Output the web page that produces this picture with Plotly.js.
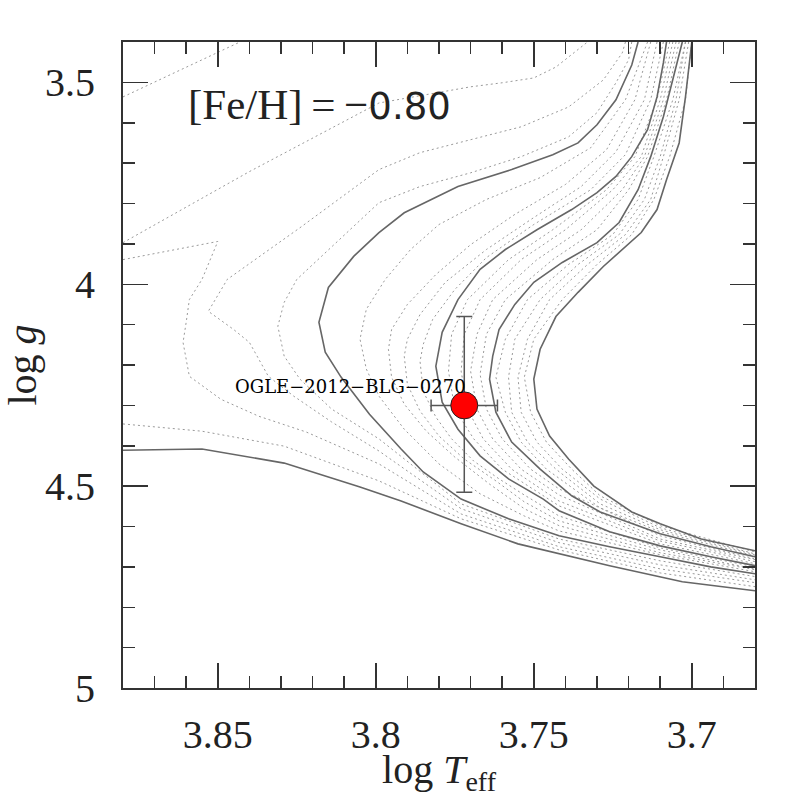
<!DOCTYPE html>
<html>
<head>
<meta charset="utf-8">
<script src="https://cdn.plot.ly/plotly-3.0.1.min.js"></script>
<style>
  body { margin: 0; background: #fff; }
  #chart { width: 797px; height: 797px; }
</style>
</head>
<body>
<div id="chart"></div>
<script>
// solid isochrones (log Teff, log g)
var s1Teff = [3.880, 3.855, 3.829, 3.805, 3.792, 3.773, 3.755, 3.742, 3.726, 3.703, 3.680];
var s1Logg = [4.411, 4.408, 4.443, 4.502, 4.537, 4.593, 4.643, 4.668, 4.697, 4.737, 4.759];

var s2Teff = [3.717, 3.719, 3.724, 3.730, 3.736, 3.744, 3.757, 3.774, 3.791, 3.799, 3.807, 3.815, 3.818, 3.816, 3.811, 3.802, 3.792, 3.785, 3.773, 3.758, 3.742, 3.726, 3.710, 3.694, 3.680];
var s2Logg = [3.400, 3.457, 3.543, 3.605, 3.650, 3.679, 3.716, 3.758, 3.823, 3.872, 3.931, 4.008, 4.094, 4.168, 4.230, 4.322, 4.408, 4.465, 4.532, 4.581, 4.623, 4.650, 4.675, 4.700, 4.717];

var s3Teff = [3.708, 3.709, 3.711, 3.714, 3.719, 3.724, 3.730, 3.738, 3.749, 3.759, 3.767, 3.774, 3.779, 3.781, 3.779, 3.774, 3.767, 3.758, 3.747, 3.742, 3.726, 3.710, 3.694, 3.680];
var s3Logg = [3.400, 3.452, 3.536, 3.617, 3.684, 3.733, 3.773, 3.815, 3.865, 3.914, 3.963, 4.038, 4.119, 4.203, 4.292, 4.359, 4.425, 4.482, 4.532, 4.561, 4.613, 4.648, 4.675, 4.697];

var s4Teff = [3.703, 3.706, 3.709, 3.713, 3.717, 3.723, 3.730, 3.741, 3.750, 3.756, 3.761, 3.763, 3.764, 3.762, 3.757, 3.748, 3.738, 3.729, 3.710, 3.694, 3.680];
var s4Logg = [3.400, 3.494, 3.585, 3.684, 3.766, 3.847, 3.897, 3.946, 3.995, 4.050, 4.112, 4.178, 4.235, 4.317, 4.391, 4.458, 4.524, 4.564, 4.618, 4.650, 4.675];

var s5Teff = [3.700, 3.702, 3.704, 3.708, 3.711, 3.716, 3.728, 3.736, 3.743, 3.748, 3.750, 3.749, 3.745, 3.739, 3.731, 3.719, 3.710, 3.697, 3.680];
var s5Logg = [3.400, 3.536, 3.650, 3.741, 3.815, 3.872, 3.956, 4.020, 4.080, 4.161, 4.235, 4.309, 4.376, 4.433, 4.500, 4.564, 4.593, 4.631, 4.660];

// dotted isochrones, young ones
var d0aTeff = [3.880, 3.843];
var d0aLogg = [3.536, 3.400];
var d0bTeff = [3.880, 3.855, 3.829, 3.799, 3.773, 3.742, 3.710, 3.680];
var d0bLogg = [4.346, 4.364, 4.401, 4.487, 4.581, 4.658, 4.715, 4.749];

var d2Teff = [3.880, 3.840, 3.799, 3.770, 3.760, 3.750, 3.743, 3.733];
var d2Logg = [3.897, 3.721, 3.551, 3.511, 3.501, 3.489, 3.462, 3.400];

var y1Teff = [3.880, 3.850, 3.855, 3.859, 3.860, 3.861, 3.859, 3.849, 3.837, 3.822, 3.799, 3.773, 3.742, 3.710, 3.680];
var y1Logg = [3.939, 3.894, 3.988, 4.038, 4.094, 4.144, 4.228, 4.285, 4.327, 4.366, 4.445, 4.569, 4.650, 4.705, 4.739];

var y2Teff = [3.721, 3.722, 3.728, 3.739, 3.754, 3.770, 3.786, 3.799, 3.824, 3.847, 3.853, 3.845, 3.840, 3.837, 3.834, 3.826, 3.814, 3.799, 3.773, 3.742, 3.710, 3.680];
var y2Logg = [3.400, 3.427, 3.494, 3.561, 3.610, 3.642, 3.674, 3.716, 3.860, 3.988, 4.067, 4.112, 4.144, 4.186, 4.228, 4.277, 4.341, 4.413, 4.556, 4.640, 4.695, 4.732];

var y3Teff = [3.719, 3.720, 3.724, 3.730, 3.739, 3.754, 3.770, 3.786, 3.799, 3.825, 3.829, 3.831, 3.829, 3.824, 3.814, 3.799, 3.773, 3.742, 3.710, 3.680];
var y3Logg = [3.400, 3.444, 3.501, 3.575, 3.635, 3.684, 3.724, 3.758, 3.798, 3.988, 4.045, 4.104, 4.178, 4.235, 4.309, 4.383, 4.544, 4.631, 4.685, 4.724];

// dotted between solid 2 and 3
var m1Teff = [3.714, 3.721, 3.732, 3.748, 3.765, 3.780, 3.789, 3.797, 3.803, 3.805, 3.803, 3.799, 3.791, 3.780, 3.767, 3.753, 3.742, 3.710, 3.680];
var m1Logg = [3.400, 3.543, 3.662, 3.736, 3.790, 3.852, 3.914, 3.988, 4.062, 4.136, 4.210, 4.277, 4.359, 4.445, 4.519, 4.574, 4.611, 4.670, 4.712];
var m2Teff = [3.713, 3.718, 3.727, 3.740, 3.756, 3.770, 3.781, 3.790, 3.795, 3.796, 3.795, 3.791, 3.784, 3.775, 3.764, 3.753, 3.742, 3.710, 3.680];
var m2Logg = [3.400, 3.543, 3.667, 3.753, 3.827, 3.902, 3.976, 4.050, 4.112, 4.161, 4.230, 4.297, 4.364, 4.428, 4.495, 4.556, 4.598, 4.665, 4.707];
var m3Teff = [3.711, 3.715, 3.724, 3.735, 3.751, 3.765, 3.778, 3.786, 3.790, 3.791, 3.790, 3.786, 3.780, 3.772, 3.762, 3.753, 3.742, 3.710, 3.680];
var m3Logg = [3.400, 3.543, 3.672, 3.758, 3.840, 3.914, 3.995, 4.075, 4.136, 4.178, 4.248, 4.314, 4.376, 4.433, 4.487, 4.539, 4.586, 4.658, 4.705];
var m4Teff = [3.709, 3.713, 3.721, 3.732, 3.750, 3.765, 3.775, 3.782, 3.785, 3.786, 3.785, 3.781, 3.776, 3.769, 3.761, 3.753, 3.742, 3.710, 3.680];
var m4Logg = [3.400, 3.543, 3.679, 3.766, 3.852, 3.934, 4.013, 4.087, 4.149, 4.191, 4.265, 4.329, 4.383, 4.438, 4.482, 4.522, 4.574, 4.653, 4.700];

// dotted between solid 3 and 4
var n1Teff = [3.707, 3.711, 3.718, 3.727, 3.744, 3.758, 3.771, 3.776, 3.777, 3.775, 3.769, 3.760, 3.742, 3.710, 3.680];
var n1Logg = [3.400, 3.543, 3.684, 3.766, 3.865, 3.939, 4.038, 4.124, 4.215, 4.309, 4.383, 4.458, 4.549, 4.643, 4.692];
var n2Teff = [3.706, 3.710, 3.716, 3.725, 3.740, 3.754, 3.767, 3.772, 3.773, 3.771, 3.766, 3.757, 3.742, 3.710, 3.680];
var n2Logg = [3.400, 3.543, 3.684, 3.766, 3.865, 3.939, 4.038, 4.124, 4.215, 4.309, 4.383, 4.458, 4.537, 4.636, 4.687];
var n3Teff = [3.705, 3.709, 3.715, 3.722, 3.735, 3.749, 3.763, 3.768, 3.770, 3.768, 3.763, 3.754, 3.742, 3.710, 3.680];
var n3Logg = [3.400, 3.543, 3.684, 3.766, 3.865, 3.939, 4.038, 4.124, 4.215, 4.309, 4.383, 4.458, 4.522, 4.631, 4.682];
var n4Teff = [3.704, 3.708, 3.714, 3.720, 3.730, 3.744, 3.759, 3.765, 3.767, 3.765, 3.760, 3.751, 3.742, 3.710, 3.680];
var n4Logg = [3.400, 3.543, 3.684, 3.766, 3.865, 3.939, 4.038, 4.124, 4.223, 4.309, 4.383, 4.458, 4.507, 4.623, 4.680];

// dotted between solid 4 and 5
var p1Teff = [3.702, 3.706, 3.712, 3.717, 3.725, 3.739, 3.752, 3.759, 3.762, 3.759, 3.754, 3.746, 3.729, 3.710, 3.680];
var p1Logg = [3.400, 3.543, 3.684, 3.790, 3.877, 3.951, 4.038, 4.136, 4.230, 4.317, 4.391, 4.458, 4.554, 4.613, 4.673];
var p2Teff = [3.702, 3.705, 3.710, 3.715, 3.723, 3.736, 3.748, 3.756, 3.758, 3.757, 3.752, 3.743, 3.729, 3.710, 3.680];
var p2Logg = [3.400, 3.543, 3.684, 3.790, 3.877, 3.951, 4.038, 4.136, 4.230, 4.317, 4.391, 4.458, 4.544, 4.608, 4.670];
var p3Teff = [3.701, 3.704, 3.709, 3.713, 3.721, 3.733, 3.745, 3.752, 3.755, 3.754, 3.749, 3.741, 3.729, 3.710, 3.680];
var p3Logg = [3.400, 3.543, 3.684, 3.790, 3.877, 3.951, 4.038, 4.136, 4.230, 4.317, 4.391, 4.458, 4.532, 4.603, 4.668];
var p4Teff = [3.700, 3.702, 3.707, 3.712, 3.719, 3.730, 3.741, 3.750, 3.753, 3.751, 3.746, 3.738, 3.729, 3.710, 3.680];
var p4Logg = [3.400, 3.543, 3.684, 3.790, 3.877, 3.951, 4.038, 4.136, 4.230, 4.317, 4.391, 4.458, 4.524, 4.598, 4.663];

// the source star
var starName = ["OGLE\u22122012\u2212BLG\u22120270"];
var starTeff = [3.772];
var starLogg = [4.30];
var starTeffErr = [0.0105];
var starLoggErrUp = [0.22];   // toward lower log g
var starLoggErrDown = [0.215];

var xTicks = [3.85, 3.8, 3.75, 3.7];
var xTickText = ["3.85", "3.8", "3.75", "3.7"];
var yTicks = [3.5, 4, 4.5, 5];
var yTickText = ["3.5", "4", "4.5", "5"];

var dotted = [
  [d0aTeff, d0aLogg], [d0bTeff, d0bLogg], [d2Teff, d2Logg],
  [y1Teff, y1Logg], [y2Teff, y2Logg], [y3Teff, y3Logg],
  [m1Teff, m1Logg], [m2Teff, m2Logg], [m3Teff, m3Logg], [m4Teff, m4Logg],
  [n1Teff, n1Logg], [n2Teff, n2Logg], [n3Teff, n3Logg], [n4Teff, n4Logg],
  [p1Teff, p1Logg], [p2Teff, p2Logg], [p3Teff, p3Logg], [p4Teff, p4Logg]
];
var solid = [
  [s1Teff, s1Logg], [s2Teff, s2Logg], [s3Teff, s3Logg], [s4Teff, s4Logg], [s5Teff, s5Logg]
];

var data = [];
dotted.forEach(function (c) {
  data.push({
    x: c[0], y: c[1], type: "scatter", mode: "lines",
    line: { color: "#9a9a9a", width: 1, dash: "2px,3px" },
    hoverinfo: "skip"
  });
});
solid.forEach(function (c) {
  data.push({
    x: c[0], y: c[1], type: "scatter", mode: "lines",
    line: { color: "#666", width: 1.6 },
    hoverinfo: "skip"
  });
});
data.push({
  x: starTeff, y: starLogg, type: "scatter", mode: "markers",
  marker: { size: 27, color: "#ff0000", line: { color: "#222", width: 1 } },
  error_x: { type: "data", array: starTeffErr, color: "#555", thickness: 1.5, width: 6 },
  error_y: { type: "data", symmetric: false, array: starLoggErrDown, arrayminus: starLoggErrUp,
             color: "#555", thickness: 1.5, width: 8 }
});

var tickFont = { family: "Liberation Serif", size: 40, color: "#222" };

var layout = {
  width: 797, height: 797,
  margin: { l: 123, r: 42, t: 42, b: 109 },
  paper_bgcolor: "#fff", plot_bgcolor: "#fff",
  showlegend: false,
  xaxis: {
    range: [3.88, 3.68],
    tickmode: "array", tickvals: xTicks, ticktext: xTickText,
    ticks: "inside", ticklen: 25, tickwidth: 1.5, tickcolor: "#333",
    minor: { tickmode: "linear", tick0: 3.7, dtick: 0.01, ticks: "inside", ticklen: 12, tickwidth: 1.5, tickcolor: "#333" },
    showline: true, linecolor: "#333", linewidth: 2, mirror: "ticks",
    showgrid: false, zeroline: false,
    tickfont: tickFont, ticklabelstandoff: 10,
    title: { text: "log <i>T</i><sub>eff</sub>", font: { family: "Liberation Serif", size: 40, color: "#222" }, standoff: 9 }
  },
  yaxis: {
    range: [5, 3.4],
    tickmode: "array", tickvals: yTicks, ticktext: yTickText,
    ticks: "inside", ticklen: 25, tickwidth: 1.5, tickcolor: "#333",
    minor: { tickmode: "linear", tick0: 3.4, dtick: 0.1, ticks: "inside", ticklen: 12, tickwidth: 1.5, tickcolor: "#333" },
    showline: true, linecolor: "#333", linewidth: 2, mirror: "ticks",
    showgrid: false, zeroline: false,
    tickfont: tickFont, ticklabelstandoff: 18,
    title: { text: "log <i>g</i>", font: { family: "Liberation Serif", size: 40, color: "#222" }, standoff: 14 }
  },
  annotations: [
    {
      x: 3.860, y: 3.556, xref: "x", yref: "y", xanchor: "left", yanchor: "middle",
      showarrow: false,
      text: "[Fe/H]\u2009=\u2009\u2212<span style=\"font-family:'DejaVu Sans'; font-size:37px\">0.80</span>",
      font: { family: "Liberation Serif", size: 43, color: "#222" }
    },
    {
      x: starTeff[0], y: starLogg[0], xref: "x", yref: "y", xanchor: "right", yanchor: "bottom",
      xshift: 4, yshift: 6, showarrow: false, text: starName[0],
      font: { family: "DejaVu Serif", size: 18, color: "#000" }
    }
  ]
};

Plotly.newPlot("chart", data, layout, { staticPlot: true });
</script>
</body>
</html>
